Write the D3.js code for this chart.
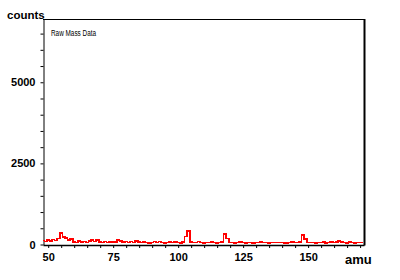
<!DOCTYPE html>
<html>
<head>
<meta charset="utf-8">
<script src="https://cdn.jsdelivr.net/npm/d3@7"></script>
<style>
  body { margin: 0; background: #fff; }
  svg { display: block; }
  .ax text { font-family: "Liberation Sans", Arial, sans-serif; font-weight: bold; font-size: 11px; fill: #000; }
  .ax path, .ax line { stroke: #000; }
</style>
</head>
<body>
<div id="chart"></div>
<script>
// spectrum sampled every 1 amu, starting at 48
const amuStart = 48;
const counts = [
  120, 90, 140, 100, 150, 120, 190, 350, 230, 200, 140, 170,
  80, 60, 100, 70, 90, 60, 110, 140, 90, 130, 80, 60,
  90, 60, 80, 70, 80, 140, 110, 70, 90, 60, 90, 60,
  100, 70, 60, 80, 60, 50, 60, 90, 60, 90, 60, 50,
  60, 80, 60, 70, 60, 50, 70, 250, 420, 70, 60, 60,
  90, 60, 50, 60, 60, 70, 60, 50, 60, 80, 320, 180,
  60, 60, 50, 60, 70, 60, 50, 60, 60, 40, 60, 60,
  70, 60, 60, 50, 60, 60, 60, 60, 60, 50, 40, 60,
  70, 60, 60, 80, 290, 170, 60, 60, 60, 50, 60, 60,
  70, 50, 60, 70, 60, 80, 100, 70, 60, 50, 70, 60,
  50, 60, 60, 60
];
const xTickLabels = [50, 75, 100, 125, 150];
const yTickLabels = [0, 2500, 5000];

const data = counts.map((c, i) => ({ amu: amuStart + i, c }));

const W = 400, H = 280;
const plotLeft = 43, plotRight = 364, plotTop = 19, plotBottom = 244.5;

const svg = d3.select("#chart").append("svg")
  .attr("width", W).attr("height", H);

const x = d3.scaleLinear().domain([48, 171.5]).range([plotLeft, plotRight]);
const y = d3.scaleLinear().domain([0, 6950]).range([plotBottom, plotTop]);

// frame
svg.append("line").attr("x1", plotLeft).attr("x2", plotRight).attr("y1", plotTop + 0.5).attr("y2", plotTop + 0.5)
  .attr("stroke", "#000");
svg.append("line").attr("x1", plotRight + 0.5).attr("x2", plotRight + 0.5).attr("y1", plotTop).attr("y2", plotBottom + 1)
  .attr("stroke", "#000").attr("stroke-width", 2);

// x axis
const gx = svg.append("g").attr("class", "ax")
  .attr("transform", `translate(0,${plotBottom + 0.5})`)
  .call(d3.axisBottom(x).tickValues(d3.range(50, 171, 5)).tickSize(3).tickSizeOuter(0)
    .tickFormat(d => xTickLabels.includes(d) ? d : ""));
gx.select(".domain").attr("stroke-width", 1.5);
gx.selectAll("text").attr("dy", "0").attr("y", 16);

// y axis
const gy = svg.append("g").attr("class", "ax")
  .attr("transform", `translate(${plotLeft + 0.5},0)`)
  .call(d3.axisLeft(y).tickValues(d3.range(0, 6950, 500)).tickSize(3).tickSizeOuter(0)
    .tickFormat(d => yTickLabels.includes(d) ? d : ""));
gy.selectAll("text").attr("x", -8);

// spectrum
const line = d3.line()
  .x(d => x(d.amu))
  .y(d => y(d.c))
  .curve(d3.curveStep);

svg.append("path")
  .datum(data)
  .attr("fill", "none")
  .attr("stroke", "#ff0000")
  .attr("stroke-width", 1.6)
  .attr("shape-rendering", "crispEdges")
  .attr("d", line);

// labels
svg.append("text").attr("x", 7).attr("y", 19)
  .style("font-family", "Liberation Sans, Arial, sans-serif")
  .style("font-weight", "bold").style("font-size", "11.5px")
  .text("counts");

svg.append("text").attr("x", 345).attr("y", 264)
  .style("font-family", "Liberation Sans, Arial, sans-serif")
  .style("font-weight", "bold").style("font-size", "13px")
  .text("amu");

svg.append("text").attr("x", 51).attr("y", 36)
  .style("font-family", "Liberation Sans, Arial, sans-serif")
  .style("font-size", "8.5px")
  .attr("textLength", 45).attr("lengthAdjust", "spacingAndGlyphs")
  .text("Raw Mass Data");
</script>
</body>
</html>
